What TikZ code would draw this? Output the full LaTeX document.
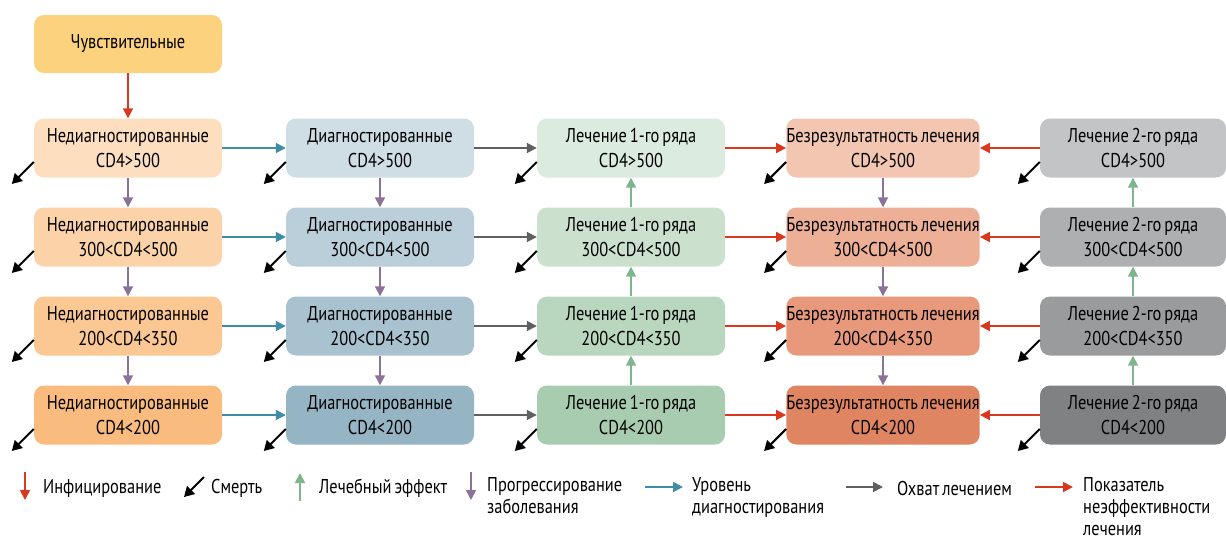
\documentclass[tikz,border=0pt]{standalone}
\usepackage{fontspec}
\setmainfont{PT Sans}[FakeStretch=0.82,WordSpace=0.7]
\usetikzlibrary{arrows.meta,calc}
\definecolor{cred}{HTML}{D9381E}
\definecolor{cblue}{HTML}{3F8CA6}
\definecolor{cgray}{HTML}{5E6062}
\definecolor{cpurp}{HTML}{8C7299}
\definecolor{cgreen}{HTML}{7DB58C}
\definecolor{top}{HTML}{FDD27F}
\definecolor{a1}{HTML}{FDDFC0}\definecolor{a2}{HTML}{FCD3A8}\definecolor{a3}{HTML}{FBC893}\definecolor{a4}{HTML}{F9BC7E}
\definecolor{b1}{HTML}{CFDDE5}\definecolor{b2}{HTML}{BBCFDA}\definecolor{b3}{HTML}{A9C2CF}\definecolor{b4}{HTML}{95B5C5}
\definecolor{g1}{HTML}{DCEBDF}\definecolor{g2}{HTML}{CBE1CE}\definecolor{g3}{HTML}{B9D6BE}\definecolor{g4}{HTML}{A8CCAF}
\definecolor{r1}{HTML}{F2C6B0}\definecolor{r2}{HTML}{EDB096}\definecolor{r3}{HTML}{E8997C}\definecolor{r4}{HTML}{E08562}
\definecolor{k1}{HTML}{C2C4C6}\definecolor{k2}{HTML}{ADAFB1}\definecolor{k3}{HTML}{999B9D}\definecolor{k4}{HTML}{7F8183}
\tikzset{
  box/.style={rounded corners=10pt, minimum width=188pt, minimum height=59pt, align=center, inner sep=0pt, font=\fontsize{20}{25}\selectfont, text=black},
  arr/.style={line width=1.8pt, -{Triangle[length=10pt,width=10pt]}},
  death/.style={line width=2pt, black, -{Triangle[length=10pt,width=11pt]}},
  leg/.style={anchor=west, align=left, inner sep=0pt, font=\fontsize{20}{22}\selectfont},
}
\begin{document}
\begin{tikzpicture}[x=1pt,y=-1pt]
\useasboundingbox (0,0) rectangle (1226,541);
\node[box, fill=top, minimum height=58pt] (t) at (128,44) {Чувствительные};
% column 1
\node[box, fill=a1] (a1) at (128,148) {Недиагностированные\\CD4>500};
\node[box, fill=a2] (a2) at (128,237) {Недиагностированные\\300<CD4<500};
\node[box, fill=a3] (a3) at (128,326) {Недиагностированные\\200<CD4<350};
\node[box, fill=a4] (a4) at (128,415) {Недиагностированные\\CD4<200};
% column 2
\node[box, fill=b1] (b1) at (380,148) {Диагностированные\\CD4>500};
\node[box, fill=b2] (b2) at (380,237) {Диагностированные\\300<CD4<500};
\node[box, fill=b3] (b3) at (380,326) {Диагностированные\\200<CD4<350};
\node[box, fill=b4] (b4) at (380,415) {Диагностированные\\CD4<200};
% column 3
\node[box, fill=g1] (g1) at (631,148) {Лечение 1-го ряда\\CD4>500};
\node[box, fill=g2] (g2) at (631,237) {Лечение 1-го ряда\\300<CD4<500};
\node[box, fill=g3] (g3) at (631,326) {Лечение 1-го ряда\\200<CD4<350};
\node[box, fill=g4] (g4) at (631,415) {Лечение 1-го ряда\\CD4<200};
% column 4
\node[box, fill=r1] (r1) at (883,148) {Безрезультатность лечения\\CD4>500};
\node[box, fill=r2] (r2) at (883,237) {Безрезультатность лечения\\300<CD4<500};
\node[box, fill=r3] (r3) at (883,326) {Безрезультатность лечения\\200<CD4<350};
\node[box, fill=r4] (r4) at (883,415) {Безрезультатность лечения\\CD4<200};
% column 5
\node[box, fill=k1, minimum width=186pt] (k1) at (1133,148) {Лечение 2-го ряда\\CD4>500};
\node[box, fill=k2, minimum width=186pt] (k2) at (1133,237) {Лечение 2-го ряда\\300<CD4<500};
\node[box, fill=k3, minimum width=186pt] (k3) at (1133,326) {Лечение 2-го ряда\\200<CD4<350};
\node[box, fill=k4, minimum width=186pt] (k4) at (1133,415) {Лечение 2-го ряда\\CD4<200};

\draw[arr, cred] (t) -- (a1);
\foreach \i in {1,2,3,4}{
  \draw[arr, cblue] (a\i) -- (b\i);
  \draw[arr, cgray] (b\i) -- (g\i);
  \draw[arr, cred] (g\i) -- (r\i);
  \draw[arr, cred] (k\i) -- (r\i);
  \foreach \c in {a,b,g,r,k}{
    \draw[death] ($(\c\i.west)+(0,14)$) -- ++(-22,22);
  }
}
\foreach \i/\j in {1/2,2/3,3/4}{
  \draw[arr, cpurp] (a\i) -- (a\j);
  \draw[arr, cpurp] (b\i) -- (b\j);
  \draw[arr, cgreen] (g\j) -- (g\i);
  \draw[arr, cpurp] (r\i) -- (r\j);
  \draw[arr, cgreen] (k\j) -- (k\i);
}
% legend
\coordinate (l1s) at (25,472); \coordinate (l1e) at (25,500);
\draw[arr, cred] (l1s) -- (l1e);
\node[leg] (l1) at (43,488) {Инфицирование};
\coordinate (l2s) at (204,477); \coordinate (l2e) at (184,497);
\draw[death] (l2s) -- (l2e);
\node[leg] (l2) at (211,488) {Смерть};
\coordinate (l3s) at (300,501); \coordinate (l3e) at (300,473);
\draw[arr, cgreen] (l3s) -- (l3e);
\node[leg] (l3) at (319,488) {Лечебный эффект};
\coordinate (l4s) at (471,472); \coordinate (l4e) at (471,500);
\draw[arr, cpurp] (l4s) -- (l4e);
\node[leg, anchor=north west] (l4) at (487,477) {Прогрессирование\\заболевания};
\coordinate (l5s) at (645,487); \coordinate (l5e) at (683,487);
\draw[arr, cblue] (l5s) -- (l5e);
\node[leg, anchor=north west] (l5) at (692,477) {Уровень\\диагностирования};
\coordinate (l6s) at (846,487); \coordinate (l6e) at (883,487);
\draw[arr, cgray] (l6s) -- (l6e);
\node[leg] (l6) at (897,488) {Охват лечением};
\coordinate (l7s) at (1035,487); \coordinate (l7e) at (1073,487);
\draw[arr, cred] (l7s) -- (l7e);
\node[leg, anchor=north west] (l7) at (1083,477) {Показатель\\неэффективности\\лечения};
\end{tikzpicture}
\end{document}
